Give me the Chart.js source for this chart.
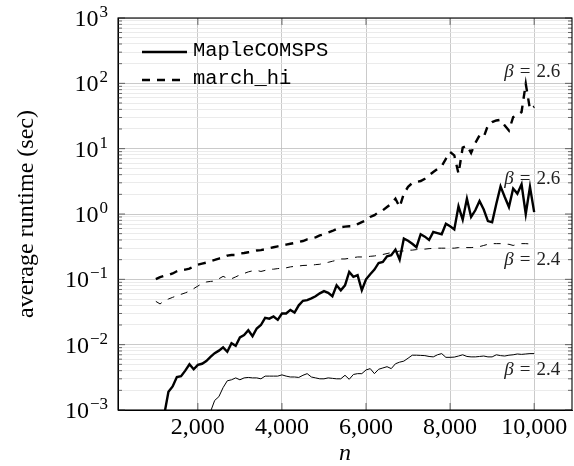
<!DOCTYPE html>
<html>
<head>
<meta charset="utf-8">
<script src="https://cdn.jsdelivr.net/npm/chart.js@4.4.1/dist/chart.umd.min.js"></script>
<style>
  html, body { margin: 0; padding: 0; background: #fff; }
  canvas { display: block; }
</style>
</head>
<body>
<canvas id="runtime-chart" width="574" height="466"></canvas>
<script>
// problem size n
const nValues = [
  1000, 1100, 1200, 1300, 1400, 1500, 1600, 1700, 1800, 1900,
  2000, 2100, 2200, 2300, 2400, 2500, 2600, 2700, 2800, 2900,
  3000, 3100, 3200, 3300, 3400, 3500, 3600, 3700, 3800, 3900,
  4000, 4100, 4200, 4300, 4400, 4500, 4600, 4700, 4800, 4900,
  5000, 5100, 5200, 5300, 5400, 5500, 5600, 5700, 5800, 5900,
  6000, 6100, 6200, 6300, 6400, 6500, 6600, 6700, 6800, 6900,
  7000, 7100, 7200, 7300, 7400, 7500, 7600, 7700, 7800, 7900,
  8000, 8100, 8200, 8300, 8400, 8500, 8600, 8700, 8800, 8900,
  9000, 9100, 9200, 9300, 9400, 9500, 9600, 9700, 9800, 9900,
  10000
];

// average runtime (sec), MapleCOMSPS, beta = 2.6
const mapleBeta26 = [
  null, null, 8.5e-4, 1.9e-3, 2.3e-3, 3.2e-3, 3.3e-3, 4.0e-3, 5.0e-3, 4.2e-3,
  4.9e-3, 5.1e-3, 5.6e-3, 6.5e-3, 7.4e-3, 8.1e-3, 9.1e-3, 7.8e-3, 1.05e-2, 9.6e-3,
  1.29e-2, 1.40e-2, 1.66e-2, 1.35e-2, 1.77e-2, 2.0e-2, 2.57e-2, 2.5e-2, 2.7e-2, 2.4e-2,
  3.0e-2, 3.0e-2, 3.4e-2, 3.1e-2, 4.0e-2, 4.7e-2, 4.8e-2, 5.1e-2, 5.5e-2, 6.1e-2,
  6.6e-2, 6.2e-2, 5.5e-2, 8.1e-2, 6.8e-2, 8.1e-2, 0.13, 0.109, 0.116, 0.068,
  0.10, 0.12, 0.141, 0.178, 0.185, 0.225, 0.234, 0.285, 0.20, 0.42,
  0.39, 0.35, 0.31, 0.49, 0.45, 0.40, 0.53, 0.51, 0.49, 0.71,
  0.65, 0.58, 1.31, 0.82, 1.72, 0.90, 1.14, 1.58, 1.17, 0.78,
  0.75, 1.44, 2.65, 1.82, 1.28, 2.45, 2.05, 2.85, 1.0, 2.6,
  1.07
];

// average runtime (sec), MapleCOMSPS, beta = 2.4
const mapleBeta24 = [
  null, null, null, null, null, null, null, null, null, null,
  null, null, null, 9.4e-4, 1.4e-3, 1.6e-3, 2.2e-3, 2.8e-3, 2.9e-3, 3.1e-3,
  2.9e-3, 3.1e-3, 3.15e-3, 3.1e-3, 3.1e-3, 3.0e-3, 3.3e-3, 3.3e-3, 3.3e-3, 3.3e-3,
  3.45e-3, 3.3e-3, 3.2e-3, 3.2e-3, 3.15e-3, 3.4e-3, 3.6e-3, 3.2e-3, 3.1e-3, 3.0e-3,
  3.0e-3, 3.1e-3, 3.05e-3, 3.0e-3, 3.0e-3, 3.4e-3, 2.95e-3, 3.5e-3, 3.6e-3, 3.6e-3,
  4.1e-3, 4.3e-3, 3.6e-3, 4.2e-3, 4.4e-3, 4.6e-3, 4.3e-3, 5.1e-3, 5.4e-3, 5.6e-3,
  6.2e-3, 6.9e-3, 6.9e-3, 6.85e-3, 6.8e-3, 6.6e-3, 6.5e-3, 7.0e-3, 7.3e-3, 6.4e-3,
  6.4e-3, 6.45e-3, 6.7e-3, 7.0e-3, 6.6e-3, 6.5e-3, 6.5e-3, 6.6e-3, 6.7e-3, 6.5e-3,
  6.5e-3, 7.0e-3, 6.8e-3, 6.7e-3, 6.9e-3, 7.0e-3, 7.2e-3, 7.1e-3, 7.2e-3, 7.3e-3,
  7.3e-3
];

// average runtime (sec), march_hi, beta = 2.6
const marchBeta26 = [
  0.101, 0.108, 0.113, 0.116, 0.123, 0.133, 0.141, 0.141, 0.146, 0.158,
  0.168, 0.174, 0.18, 0.19, 0.198, 0.208, 0.216, 0.231, 0.236, 0.236,
  0.248, 0.253, 0.26, 0.266, 0.276, 0.28, 0.288, 0.30, 0.31, 0.32,
  0.33, 0.34, 0.35, 0.36, 0.373, 0.386, 0.41, 0.42, 0.44, 0.47,
  0.49, 0.52, 0.55, 0.59, 0.63, 0.64, 0.65, 0.65, 0.70, 0.75,
  0.80, 0.90, 0.96, 1.07, 1.14, 1.28, 1.44, 1.72, 1.28, 2.05,
  2.6, 2.98, 3.1, 3.2, 3.47, 3.9, 4.4, 4.9, 5.4, 7.0,
  8.9, 7.9, 4.15, 10.4, 11.2, 8.6, 12.2, 15.9, 15.1, 22.7,
  25.5, 27, 27.7, 22.7, 19, 30.3, 32.2, 36.4, 98.6, 40,
  44
];

// average runtime (sec), march_hi, beta = 2.4
const marchBeta24 = [
  0.046, 0.042, 0.047, 0.050, 0.053, 0.056, 0.059, 0.062, 0.066, 0.072,
  0.079, 0.086, 0.091, 0.093, 0.094, 0.102, 0.111, 0.104, 0.102, 0.109,
  0.117, 0.123, 0.13, 0.135, 0.137, 0.132, 0.137, 0.143, 0.143, 0.146,
  0.148, 0.15, 0.155, 0.158, 0.16, 0.163, 0.164, 0.164, 0.168, 0.17,
  0.178, 0.182, 0.189, 0.196, 0.205, 0.205, 0.21, 0.215, 0.22, 0.22,
  0.22, 0.225, 0.228, 0.234, 0.24, 0.248, 0.257, 0.266, 0.27, 0.272,
  0.279, 0.28, 0.285, 0.29, 0.29, 0.295, 0.298, 0.30, 0.30, 0.30,
  0.30, 0.30, 0.306, 0.313, 0.306, 0.306, 0.31, 0.317, 0.33, 0.344,
  0.352, 0.352, 0.352, 0.344, 0.344, 0.33, 0.344, 0.352, 0.352, 0.348,
  0.344
];

const xTicks = [2000, 4000, 6000, 8000, 10000];
const yDecades = [-3, -2, -1, 0, 1, 2, 3];
const yExpLabels = ['\u22123', '\u22122', '\u22121', '0', '1', '2', '3'];
const legendLabels = ['MapleCOMSPS', 'march_hi'];
const betaTexts = ['2.6', '2.4', '2.6', '2.4'];

const serif = '"Liberation Serif", "DejaVu Serif", serif';
const mono = '"Liberation Mono", "DejaVu Sans Mono", monospace';

const toPoints = vals => nValues.map((n, i) => ({ x: n, y: vals[i] }));

// style per series: thick = beta 2.6, thin = beta 2.4, dashed = march_hi
const seriesStyles = [
  { width: 2.4, dash: [] },
  { width: 1.0, dash: [] },
  { width: 2.4, dash: [8, 7] },
  { width: 1.0, dash: [7, 7] }
];
// label offset (px) from the last point of each series
const betaOffsets = [-28, 21, -30, 21];

const seriesData = [mapleBeta26, mapleBeta24, marchBeta26, marchBeta24];

// minor grid positions 1..9 x 10^k on the log axis
const yGridValues = [];
yDecades.forEach(e => {
  for (let m = 1; m <= (e === 3 ? 1 : 9); m++) yGridValues.push({ value: m * Math.pow(10, e), major: m === 1 });
});

const decor = {
  id: 'decor',
  afterDraw(chart) {
    const { ctx, chartArea: a, scales: { x, y } } = chart;
    ctx.save();

    // short inner ticks on the four sides
    ctx.strokeStyle = '#444';
    ctx.lineWidth = 0.8;
    y.ticks.forEach(t => {
      const py = y.getPixelForValue(t.value);
      const len = t.major ? 7 : 4;
      ctx.beginPath();
      ctx.moveTo(a.left, py); ctx.lineTo(a.left + len, py);
      ctx.moveTo(a.right, py); ctx.lineTo(a.right - len, py);
      ctx.stroke();
    });
    x.ticks.forEach(t => {
      const px = x.getPixelForValue(t.value);
      ctx.beginPath();
      ctx.moveTo(px, a.bottom); ctx.lineTo(px, a.bottom - 7);
      ctx.moveTo(px, a.top); ctx.lineTo(px, a.top + 7);
      ctx.stroke();
    });

    // axis box
    ctx.strokeStyle = '#000';
    ctx.lineWidth = 1.1;
    ctx.strokeRect(a.left, a.top, a.right - a.left, a.bottom - a.top);

    // y tick labels 10^k
    ctx.fillStyle = '#000';
    ctx.textAlign = 'left';
    ctx.textBaseline = 'alphabetic';
    yDecades.forEach((e, i) => {
      const py = y.getPixelForValue(Math.pow(10, e));
      const right = a.left - 10;
      ctx.font = `17px ${serif}`;
      const sup = yExpLabels[i];
      const supW = ctx.measureText(sup).width;
      ctx.fillText(sup, right - supW, py - 1);
      ctx.font = `24px ${serif}`;
      const baseW = ctx.measureText('10').width;
      ctx.fillText('10', right - supW - baseW - 1, py + 8);
    });

    // legend
    [0, 2].forEach((di, i) => {
      const ds = chart.data.datasets[di];
      const ly = a.top + 34 + i * 28;
      ctx.strokeStyle = '#000';
      ctx.lineWidth = ds.borderWidth;
      ctx.setLineDash(ds.borderDash);
      ctx.beginPath();
      ctx.moveTo(a.left + 24, ly);
      ctx.lineTo(a.left + 69, ly);
      ctx.stroke();
      ctx.setLineDash([]);
      ctx.font = `20.5px ${mono}`;
      ctx.fillText(legendLabels[i], a.left + 75, ly + 3.5);
    });

    // beta labels at the end of each curve
    ctx.fillStyle = '#222';
    seriesData.forEach((vals, i) => {
      const last = vals.length - 1;
      const px = x.getPixelForValue(nValues[last]) - 2;
      const py = y.getPixelForValue(vals[last]) + betaOffsets[i];
      ctx.font = `italic 19px ${serif}`;
      const wb = ctx.measureText('\u03b2').width;
      ctx.font = `19px ${serif}`;
      const we = ctx.measureText('=').width;
      const wv = ctx.measureText(betaTexts[i]).width;
      const gap = 6;
      const total = wb + gap + we + gap + wv;
      let cx = px - total / 2;
      ctx.font = `italic 19px ${serif}`;
      ctx.fillText('\u03b2', cx, py);
      cx += wb + gap;
      ctx.font = `19px ${serif}`;
      ctx.fillText('=', cx, py);
      cx += we + gap;
      ctx.fillText(betaTexts[i], cx, py);
    });

    ctx.restore();
  }
};

const ctx = document.getElementById('runtime-chart').getContext('2d');
new Chart(ctx, {
  type: 'line',
  data: {
    datasets: seriesData.map((vals, i) => ({
      label: legendLabels[i < 2 ? 0 : 1] + ' \u03b2=' + betaTexts[i],
      data: toPoints(vals),
      borderColor: '#000',
      borderWidth: seriesStyles[i].width,
      borderDash: seriesStyles[i].dash,
      borderJoinStyle: 'miter',
      borderCapStyle: 'butt',
      pointRadius: 0,
      tension: 0,
      fill: false,
      spanGaps: false
    }))
  },
  options: {
    responsive: false,
    animation: false,
    devicePixelRatio: 1,
    layout: { padding: { top: 18, right: 2, left: 0, bottom: 0 } },
    plugins: { legend: { display: false }, tooltip: { enabled: false } },
    scales: {
      x: {
        type: 'linear',
        min: 100,
        max: 10900,
        afterBuildTicks: s => { s.ticks = xTicks.map(v => ({ value: v })); },
        afterFit: s => { s.height = 56; },
        grid: { color: '#bdbdbd', lineWidth: 0.8, drawTicks: false },
        border: { color: '#000', width: 1 },
        ticks: {
          padding: 3,
          color: '#000',
          maxRotation: 0,
          autoSkip: false,
          font: { family: serif, size: 24 },
          callback: v => v.toLocaleString('en-US')
        },
        title: {
          display: true,
          text: 'n',
          color: '#000',
          padding: { top: 0, bottom: 0 },
          font: { family: serif, size: 24, style: 'italic', lineHeight: 1 }
        }
      },
      y: {
        type: 'logarithmic',
        min: 1e-3,
        max: 1e3,
        afterBuildTicks: s => { s.ticks = yGridValues.map(t => ({ value: t.value, major: t.major })); },
        afterFit: s => { s.width = 118; },
        grid: {
          drawTicks: false,
          lineWidth: 0.8,
          color: c => (c.tick && c.tick.major ? '#bdbdbd' : '#e6e6e6')
        },
        border: { color: '#000', width: 1 },
        ticks: { display: false },
        title: {
          display: true,
          text: 'average runtime (sec)',
          color: '#000',
          padding: { top: 15, bottom: 0 },
          font: { family: serif, size: 24, lineHeight: 1 }
        }
      }
    }
  },
  plugins: [decor]
});
</script>
</body>
</html>
